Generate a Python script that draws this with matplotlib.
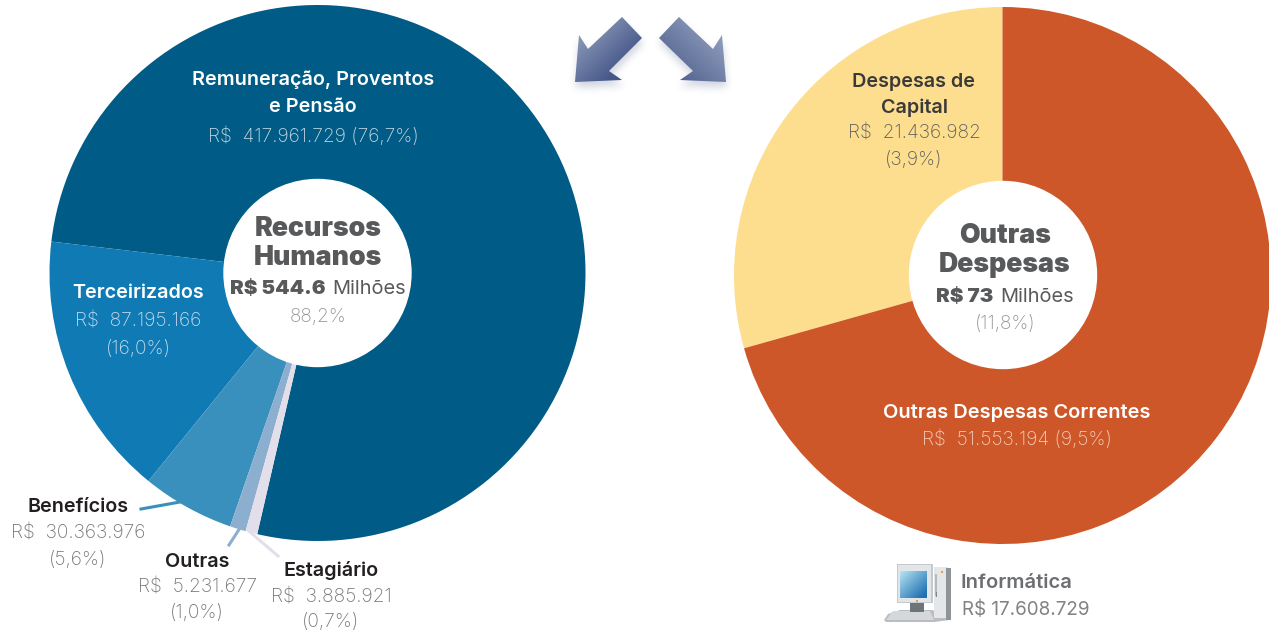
import numpy as np
import matplotlib
matplotlib.use("Agg")
import matplotlib.pyplot as plt
from matplotlib.patches import Polygon, Circle, Rectangle
from matplotlib.path import Path

W, H = 1269, 631
plt.rcParams['font.family'] = ['Inter', 'DejaVu Sans']

rh_names = ["Remuneração, Proventos e Pensão", "Terceirizados", "Benefícios", "Outras", "Estagiário"]
rh_values = [417961729, 87195166, 30363976, 5231677, 3885921]
rh_colors = ["#005C86", "#107AB4", "#3A90BC", "#8CAFCF", "#E2DFEA"]
od_names = ["Despesas de Capital", "Outras Despesas Correntes"]
od_values = [21436982, 51553194]
od_colors = ["#FCDE8E", "#CD5728"]

fig = plt.figure(figsize=(W / 100, H / 100), dpi=100)
ax = fig.add_axes([0, 0, 1, 1])

def Y(py):
    return H - py

ax.pie(rh_values, colors=rh_colors, startangle=257, center=(317.5, Y(273)), radius=268, frame=True)
ax.add_patch(Circle((317.5, Y(273)), 93.5, color="white", zorder=3))
ax.pie(od_values, colors=od_colors, startangle=90, center=(1002.5, Y(275.5)), radius=268.5, frame=True)
ax.add_patch(Circle((1003, Y(275)), 93.5, color="white", zorder=3))
ax.axis("off")

DARK, GREY, MID = "#231F20", "#77787B", "#58595B"

def T(x, y, s, size, color, weight="normal", ha="center"):
    return ax.text(x, Y(y + 2), s, fontsize=size * 0.72, color=color, fontweight=weight,
                   ha=ha, va="center", zorder=5)

S, L = 19.8, 19.2
# inside labels
T(313, 78, "Remuneração, Proventos", S, "white", "semibold")
T(313, 105, "e Pensão", S, "white", "semibold")
T(313, 134, "R$  417.961.729 (76,7%)", L, "#C3D6E1", "light")
T(138, 291, "Terceirizados", S, "white", "semibold")
T(138, 320, "R$  87.195.166", L, "#C3DCEC", "light")
T(138, 347, "(16,0%)", L, "#C3DCEC", "light")
T(914, 80, "Despesas de", S, "#3A3A3A", "semibold")
T(914, 106, "Capital", S, "#3A3A3A", "semibold")
T(914, 132, "R$  21.436.982", L, "#5F5F5F", "light")
T(914, 158, "(3,9%)", L, "#5F5F5F", "light")
T(1017, 411, "Outras Despesas Correntes", 20, "white", "semibold")
T(1017, 437, "R$  51.553.194 (9,5%)", L, "#F4CDBA", "light")

# outside labels
T(78, 505, "Benefícios", S, DARK, "semibold")
T(78, 532, "R$  30.363.976", L, GREY, "light")
T(78, 558, "(5,6%)", L, GREY, "light")
T(197, 560, "Outras", S, DARK, "semibold")
T(197, 586, "R$  5.231.677", L, GREY, "light")
T(197, 611, "(1,0%)", L, GREY, "light")
T(331, 569, "Estagiário", S, DARK, "semibold")
T(331, 595, "R$  3.885.921", L, GREY, "light")
T(331, 620, "(0,7%)", L, GREY, "light")

# leader lines
ax.plot([141, 180], [Y(509), Y(502)], color="#3A90BC", lw=2.2, zorder=2)
ax.plot([229, 240], [Y(545), Y(528)], color="#8CAFCF", lw=2.2, zorder=2)
ax.plot([278, 250], [Y(556), Y(532)], color="#E2DFEA", lw=2.2, zorder=2)

# centre labels
T(318, 227, "Recursos", 26.7, MID, "black")
T(318, 256, "Humanos", 26.7, MID, "black")
T(230, 287.5, "R$ 544.6", 20.5, MID, "black", ha="left")
T(369, 287.5, "Milhões", 20, MID)
T(318, 315, "88,2%", 19, "#939598", "light")
T(1005, 234, "Outras", 26.7, MID, "black")
T(1005, 263, "Despesas", 26.7, MID, "black")
T(936, 295.5, "R$ 73", 20.5, MID, "black", ha="left")
T(1037, 295.5, "Milhões", 20, MID)
T(1005, 322, "(11,8%)", 19, "#939598", "light")

# bottom right
T(960, 581, "Informática", 20.2, "#6D6E71", "semibold", ha="left")
T(962, 608, "R$ 17.608.729", 18.8, "#808285", "normal", ha="left")

# arrows
left_arrow = [(575, 82), (579, 35), (588, 49), (622, 17), (642, 38), (609, 71), (622, 80)]
right_arrow = [(659, 38), (679, 17), (713, 49), (722, 35), (726, 82), (680, 80), (693, 71)]

def soft_shadow(pts, pad=22, drop=5, strength=0.28):
    pts = np.array(pts, float)
    x0, x1 = int(pts[:, 0].min()) - pad, int(pts[:, 0].max()) + pad
    y0, y1 = int(pts[:, 1].min()) - pad, int(pts[:, 1].max()) + pad
    xx, yy = np.meshgrid(np.arange(x0, x1), np.arange(y0, y1))
    grid = np.c_[xx.ravel(), yy.ravel() - drop]
    mask = Path(pts).contains_points(grid).reshape(xx.shape).astype(float)
    kernel = np.ones(9) / 9
    for _ in range(2):
        mask = np.apply_along_axis(lambda r: np.convolve(r, kernel, mode="same"), 0, mask)
        mask = np.apply_along_axis(lambda r: np.convolve(r, kernel, mode="same"), 1, mask)
    rgba = np.zeros(mask.shape + (4,))
    rgba[..., :3] = matplotlib.colors.to_rgb("#5A6A90")
    rgba[..., 3] = mask * strength
    ax.imshow(rgba, extent=(x0, x1, Y(y1), Y(y0)), origin="upper", aspect="auto", zorder=1)

def gradient_poly(pts, c0, c1, direction):
    soft_shadow(pts)
    pts = np.array(pts, float)
    x0, x1 = pts[:, 0].min(), pts[:, 0].max()
    y0, y1 = pts[:, 1].min(), pts[:, 1].max()
    n = 64
    yy, xx = np.mgrid[0:1:n * 1j, 0:1:n * 1j]
    t = np.clip(direction[0] * xx + direction[1] * yy + direction[2], 0, 1)[..., None]
    c0 = np.array(matplotlib.colors.to_rgb(c0))
    c1 = np.array(matplotlib.colors.to_rgb(c1))
    img = c0 * (1 - t) + c1 * t
    poly = Polygon([(x, Y(y)) for x, y in pts], transform=ax.transData, fc="none", ec="none")
    ax.add_patch(poly)
    im = ax.imshow(img, extent=(x0, x1, Y(y1), Y(y0)), origin="upper", aspect="auto", zorder=4)
    im.set_clip_path(poly)

gradient_poly(left_arrow, "#98A4C0", "#46588A", (0.75, 0.75, -0.1))
gradient_poly(right_arrow, "#4E5F8C", "#8E9CBC", (0.7, -0.7, 0.55))

# computer icon
def P(pts, c, z=6):
    ax.add_patch(Polygon([(x, Y(y)) for x, y in pts], fc=c, ec="none", zorder=z))

def R(x, y, w, h, c, z=6):
    ax.add_patch(Rectangle((x, Y(y + h)), w, h, fc=c, ec="none", zorder=z))

P([(884, 620), (888, 614), (900, 610), (932, 610), (950, 616), (950, 620), (934, 622), (886, 622)], "#B9BDC1")
R(934, 567, 14, 51, "#E4E6E8")
R(946, 568, 5, 52, "#8F9498")
P([(886, 620), (893, 611), (930, 611), (934, 620)], "#D5D8DB", 7)
R(910, 602, 14, 10, "#6F7478", 7)
R(897, 564, 36, 39, "#C4C9CD", 7)
R(898, 565, 33, 37, "#E2E6E9", 8)
yy, xx = np.mgrid[0:1:32j, 0:1:32j]
t = np.clip(0.55 * xx + 0.55 * yy, 0, 1)[..., None]
img = np.array(matplotlib.colors.to_rgb("#B5E4F2")) * (1 - t) + np.array(matplotlib.colors.to_rgb("#1F6FB2")) * t
ax.imshow(img, extent=(900, 927, Y(598), Y(571)), origin="upper", aspect="auto", zorder=9)
R(916, 600, 2, 2, "#F0A030", 9)
R(941, 571, 2, 2, "#F0A030", 9)
R(935, 574, 2, 22, "#B5B9BC", 9)
R(936, 592, 1, 5, "#808488", 9)

ax.set_xlim(0, W)
ax.set_ylim(0, H)
ax.set_aspect("auto")

fig.savefig("out.png", dpi=100, facecolor="white")
